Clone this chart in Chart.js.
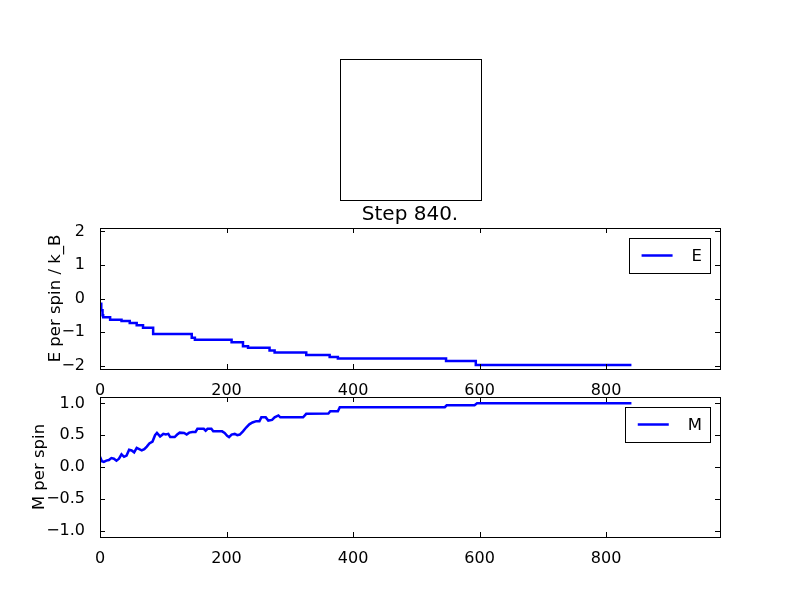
<!DOCTYPE html>
<html>
<head>
<meta charset="utf-8">
<script src="https://cdn.jsdelivr.net/npm/chart.js@4"></script>
<style>
  body { margin: 0; background: #fff; }
  #wrap { position: relative; width: 800px; height: 597px; }
  #frame { position: absolute; left: 340px; top: 59px; width: 142px; height: 142px; border: 1px solid #000; box-sizing: border-box; }
</style>
</head>
<body>
<div id="wrap">
  <div id="frame"></div>
  <div style="position:absolute;left:0;top:195px;width:800px;height:210px"><canvas id="energy"></canvas></div>
  <div style="position:absolute;left:0;top:380px;width:800px;height:190px"><canvas id="magnet"></canvas></div>
</div>
<script>
// energy per spin, held constant between steps (step function)
const eSteps = [0, 2, 4, 5, 16, 34, 47, 58, 68, 84, 145, 150, 208, 226, 234, 268, 276, 326, 363, 376, 547, 594, 840];
const eValues = [-0.16, -0.35, -0.5, -0.56, -0.63, -0.67, -0.73, -0.8, -0.87, -1.06, -1.17, -1.23, -1.3, -1.42, -1.47, -1.55, -1.61, -1.68, -1.74, -1.79, -1.86, -1.98, -1.98];

// magnetisation per spin
const mSteps = [0, 3, 6, 10, 14, 18, 22, 26, 30, 34, 38, 42, 46, 50, 54, 58, 62, 66, 70, 74, 78, 83, 87, 90, 95, 100, 104, 108, 111, 118, 122, 126, 133, 137, 141, 146, 151, 154, 164, 167, 170, 176, 179, 193, 197, 201, 204, 208, 213, 217, 221, 226, 231, 236, 241, 247, 252, 255, 262, 266, 272, 276, 282, 285, 321, 326, 361, 364, 376, 379, 545, 548, 592, 596, 840];
const mValues = [0.16, 0.09, 0.08, 0.10, 0.11, 0.14, 0.13, 0.10, 0.13, 0.20, 0.16, 0.18, 0.27, 0.26, 0.23, 0.30, 0.28, 0.26, 0.28, 0.32, 0.37, 0.40, 0.50, 0.535, 0.48, 0.52, 0.51, 0.52, 0.47, 0.47, 0.51, 0.54, 0.535, 0.51, 0.54, 0.55, 0.55, 0.60, 0.60, 0.57, 0.60, 0.60, 0.56, 0.56, 0.535, 0.49, 0.47, 0.51, 0.52, 0.50, 0.51, 0.56, 0.62, 0.67, 0.70, 0.72, 0.72, 0.78, 0.78, 0.73, 0.74, 0.78, 0.81, 0.78, 0.78, 0.835, 0.84, 0.876, 0.876, 0.94, 0.94, 0.97, 0.97, 1.0, 1.0];

const xTicks = [0, 200, 400, 600, 800];
const stepTitle = 'Step 840.';

Chart.defaults.font.family = 'DejaVu Sans';
Chart.defaults.font.size = 16;
Chart.defaults.color = '#000';

const minus = v => (v < 0 ? '\u2212' : '') + Math.abs(v);

// black frame with inward tick marks on all four sides
const framePlugin = {
  id: 'frame',
  afterDraw(chart) {
    const { ctx, chartArea: a, scales } = chart;
    ctx.save();
    ctx.strokeStyle = '#000';
    ctx.lineWidth = 1;
    ctx.strokeRect(a.left + 0.5, a.top + 0.5, a.right - a.left, a.bottom - a.top);
    ctx.beginPath();
    scales.x.ticks.forEach(t => {
      const px = Math.round(scales.x.getPixelForValue(t.value)) + 0.5;
      ctx.moveTo(px, a.bottom); ctx.lineTo(px, a.bottom - 5);
      ctx.moveTo(px, a.top); ctx.lineTo(px, a.top + 5);
    });
    scales.y.ticks.forEach(t => {
      const py = Math.round(scales.y.getPixelForValue(t.value)) + 0.5;
      ctx.moveTo(a.left, py); ctx.lineTo(a.left + 5, py);
      ctx.moveTo(a.right, py); ctx.lineTo(a.right - 5, py);
    });
    ctx.stroke();
    ctx.restore();
  }
};

// matplotlib style legend box in the upper right corner
const boxLegend = {
  id: 'boxLegend',
  afterDraw(chart) {
    const { ctx, chartArea: a } = chart;
    const ds = chart.data.datasets[0];
    ctx.save();
    ctx.font = '16.5px "DejaVu Sans"';
    const tw = ctx.measureText(ds.label).width;
    const w = 13 + 31 + 19 + tw + 8, h = 35;
    const x = a.right - 10 - w, y = a.top + 10;
    ctx.fillStyle = '#fff';
    ctx.fillRect(x, y, w, h);
    ctx.strokeStyle = '#000';
    ctx.lineWidth = 1;
    ctx.strokeRect(Math.round(x) + 0.5, Math.round(y) + 0.5, Math.round(w), h);
    ctx.strokeStyle = ds.borderColor;
    ctx.lineWidth = 2.5;
    ctx.beginPath();
    ctx.moveTo(x + 13, y + h / 2);
    ctx.lineTo(x + 44, y + h / 2);
    ctx.stroke();
    ctx.fillStyle = '#000';
    ctx.textBaseline = 'middle';
    ctx.fillText(ds.label, x + 63, y + h / 2 + 1);
    ctx.restore();
  }
};

function xAxis(height) {
  return {
    type: 'linear', min: 0, max: 980,
    grid: { display: false }, border: { display: false },
    afterBuildTicks: s => { s.ticks = xTicks.map(v => ({ value: v })); },
    ticks: { padding: 4, includeBounds: false },
    afterFit: s => { s.height = height; }
  };
}

// hidden top axis that reserves a fixed strip above the plot area
function topAxis(height, title) {
  return {
    type: 'linear', position: 'top', min: 0, max: 980,
    grid: { display: false }, border: { display: false },
    ticks: { display: false },
    title: title
      ? { display: true, text: title, font: { size: 20 }, padding: { top: 7.5, bottom: 0 } }
      : { display: false },
    afterFit: s => { s.height = height; }
  };
}

new Chart(document.getElementById('energy'), {
  type: 'line',
  data: {
    datasets: [{
      label: 'E',
      data: eSteps.map((s, i) => ({ x: s, y: eValues[i] })),
      borderColor: '#0000ff',
      borderWidth: 2.5,
      pointRadius: 0,
      stepped: true
    }]
  },
  options: {
    responsive: true, maintainAspectRatio: false, animation: false,
    layout: { padding: { left: 0, right: 80, top: 0, bottom: 0 } },
    plugins: { legend: { display: false }, tooltip: { enabled: false } },
    scales: {
      x: xAxis(36),
      x2: topAxis(33, stepTitle),
      y: {
        min: -2.1, max: 2.1,
        grid: { display: false }, border: { display: false },
        ticks: { stepSize: 1, padding: 7, includeBounds: false, callback: minus },
        title: { display: true, text: 'E per spin / k_B', font: { size: 16.5 }, padding: { top: 46, bottom: 0 } },
        afterFit: s => { s.width = 100; }
      }
    }
  },
  plugins: [framePlugin, boxLegend]
});

new Chart(document.getElementById('magnet'), {
  type: 'line',
  data: {
    datasets: [{
      label: 'M',
      data: mSteps.map((s, i) => ({ x: s, y: mValues[i] })),
      borderColor: '#0000ff',
      borderWidth: 2.5,
      pointRadius: 0
    }]
  },
  options: {
    responsive: true, maintainAspectRatio: false, animation: false,
    layout: { padding: { left: 0, right: 80, top: 0, bottom: 0 } },
    plugins: { legend: { display: false }, tooltip: { enabled: false } },
    scales: {
      x: xAxis(33),
      x2: topAxis(17, null),
      y: {
        min: -1.1, max: 1.1,
        grid: { display: false }, border: { display: false },
        ticks: { stepSize: 0.5, padding: 7, includeBounds: false, callback: v => (v < 0 ? '\u2212' : '') + Math.abs(v).toFixed(1) },
        title: { display: true, text: 'M per spin', font: { size: 16.5 }, padding: { top: 30, bottom: 0 } },
        afterFit: s => { s.width = 100; }
      }
    }
  },
  plugins: [framePlugin, boxLegend]
});
</script>
</body>
</html>
